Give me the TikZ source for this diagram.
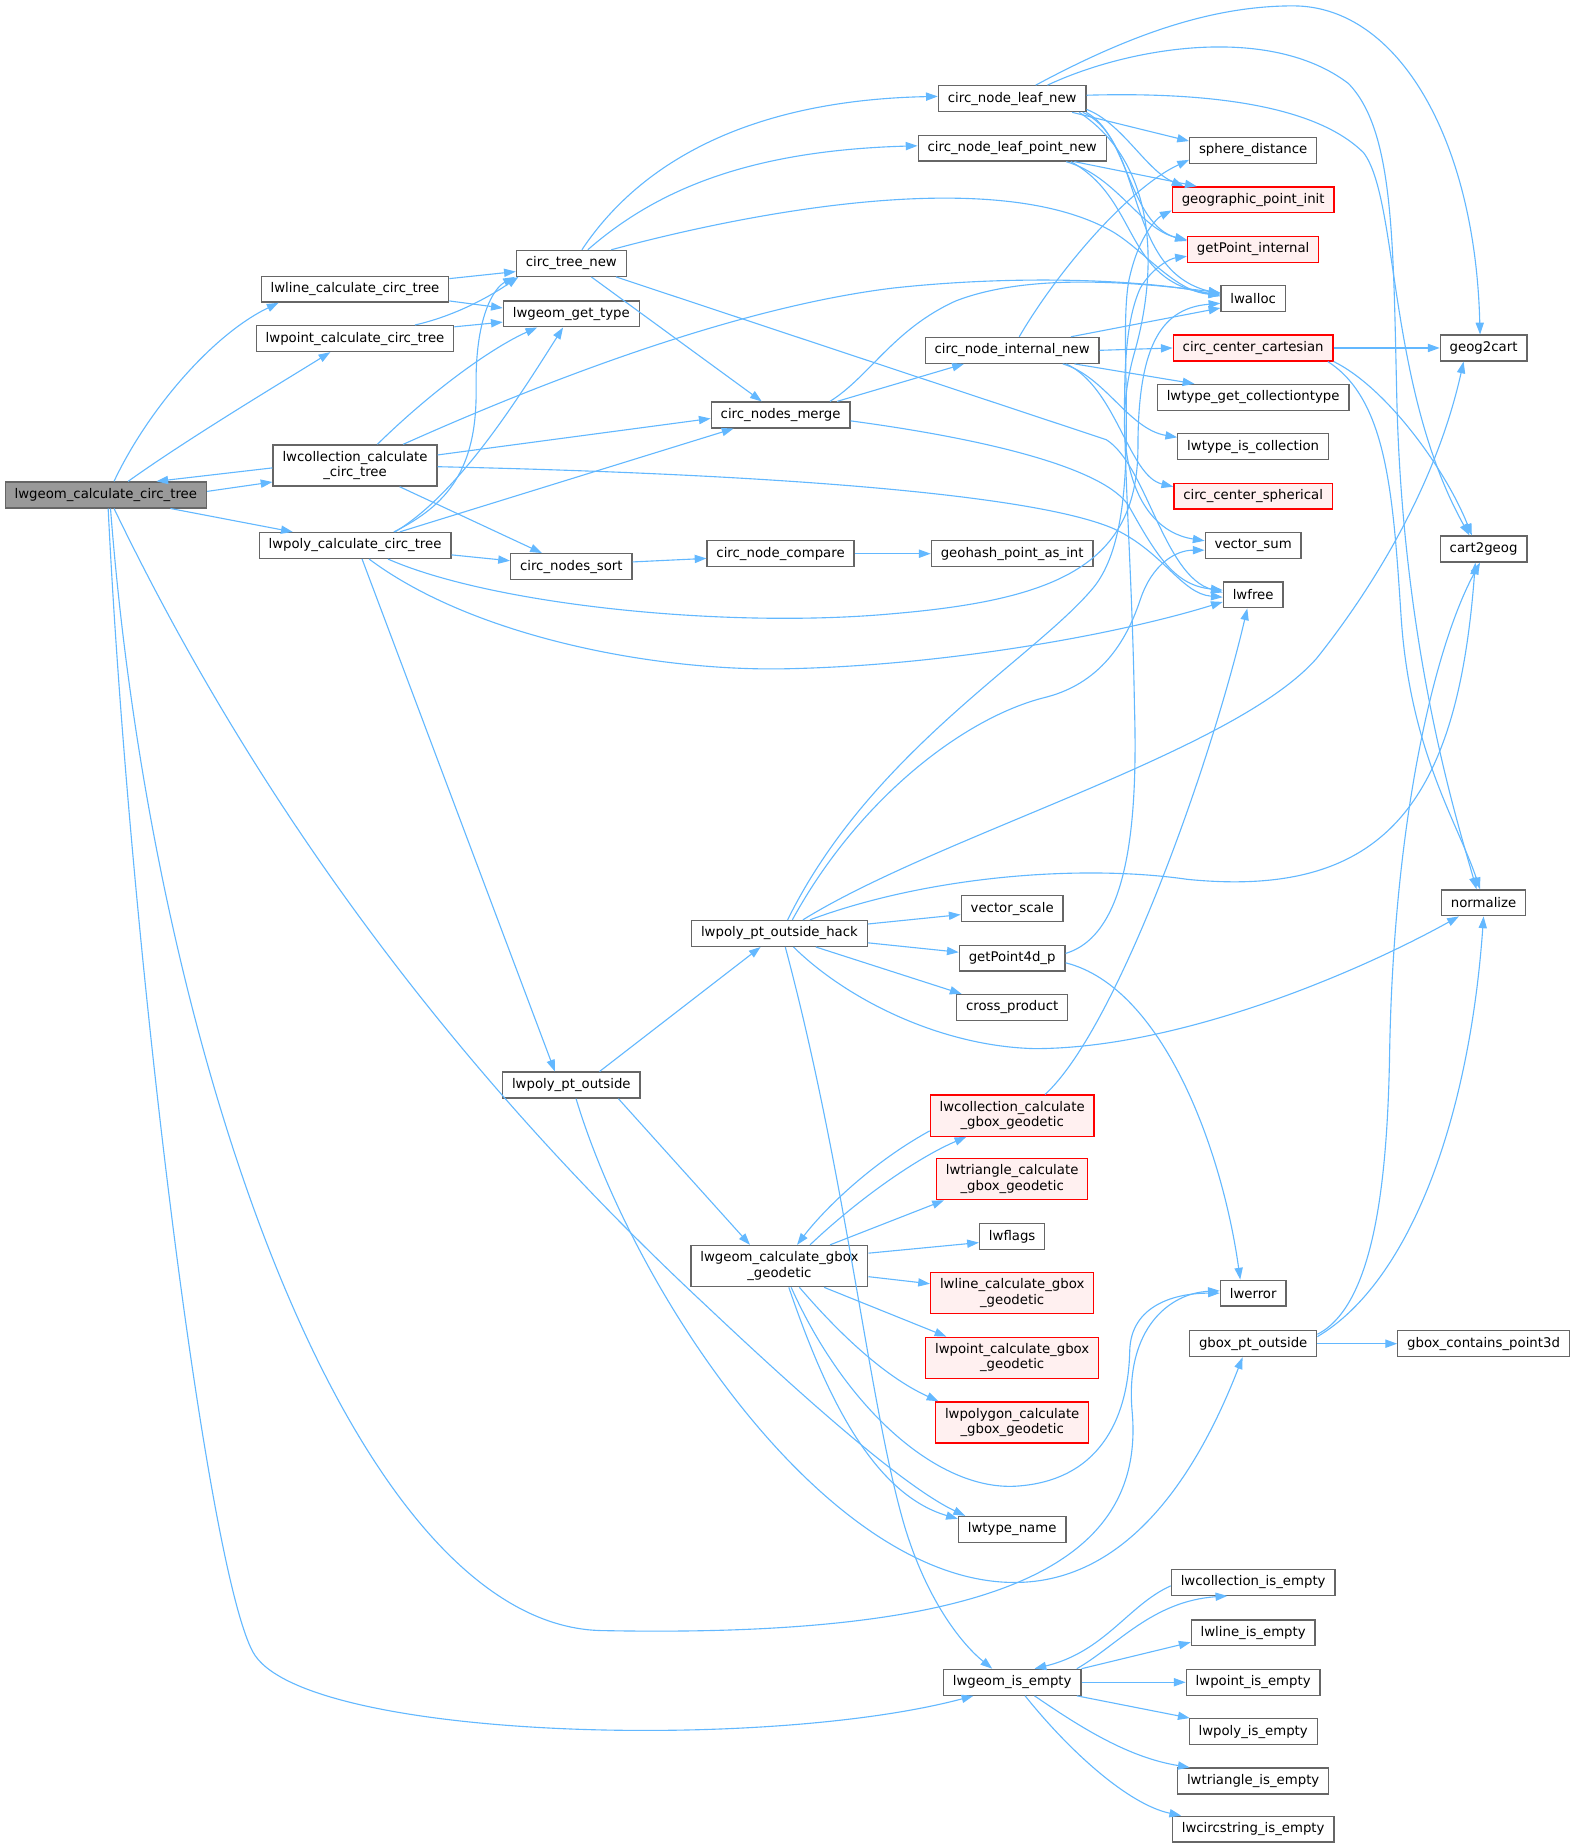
\documentclass[tikz,border=0pt]{standalone}
\usepackage{fontspec}
\setmainfont{DejaVu Sans}
\usepackage{tikz}
\usetikzlibrary{arrows.meta}
\definecolor{edgeblue}{HTML}{63B8FF}
\definecolor{boxgrey}{HTML}{666666}
\definecolor{rootgrey}{HTML}{999999}
\definecolor{redline}{HTML}{FF0000}
\definecolor{redfill}{HTML}{FFF0F0}

\begin{document}
\begin{tikzpicture}[x=1pt,y=-1pt,
    fnbox/.style={draw=boxgrey, fill=white, line width=1.1pt, inner xsep=8pt, inner ysep=3pt,
      minimum height=22pt, align=center, font=\fontsize{11.3}{13}\selectfont},
    redbox/.style={fnbox, draw=redline, fill=redfill},
    rootbox/.style={fnbox, fill=rootgrey},
    tallbox/.style={minimum height=35pt},
    call/.style={draw=edgeblue, line width=0.95pt, -{Triangle[length=10pt,width=7pt]}}]
    \useasboundingbox (0,0) rectangle (1340,1572);

    \node[rootbox] (root) at (90,421) {lwgeom\_calculate\_circ\_tree};
    \node[fnbox] (lwline) at (302,246) {lwline\_calculate\_circ\_tree};
    \node[fnbox] (lwpoint) at (302,288) {lwpoint\_calculate\_circ\_tree};
    \node[fnbox,tallbox] (lwcoll) at (302,396) {lwcollection\_calculate\\\_circ\_tree};
    \node[fnbox] (lwpoly) at (302,464) {lwpoly\_calculate\_circ\_tree};
    \node[fnbox] (treenew) at (486,224) {circ\_tree\_new};
    \node[fnbox] (gettype) at (486,267) {lwgeom\_get\_type};
    \node[fnbox] (sort) at (486,482) {circ\_nodes\_sort};
    \node[fnbox] (merge) at (664,353) {circ\_nodes\_merge};
    \node[fnbox] (compare) at (664,471) {circ\_node\_compare};
    \node[fnbox] (geohash) at (861,471) {geohash\_point\_as\_int};
    \node[fnbox] (leaf) at (861,84) {circ\_node\_leaf\_new};
    \node[fnbox] (leafpt) at (861,126) {circ\_node\_leaf\_point\_new};
    \node[fnbox] (internal) at (861,298) {circ\_node\_internal\_new};
    \node[fnbox] (spheredist) at (1066,128) {sphere\_distance};
    \node[redbox] (geoinit) at (1066,170) {geographic\_point\_init};
    \node[redbox] (getptint) at (1066,212) {getPoint\_internal};
    \node[fnbox] (lwalloc) at (1066,254) {lwalloc};
    \node[redbox] (cartesian) at (1066,296) {circ\_center\_cartesian};
    \node[fnbox] (colltype) at (1066,338) {lwtype\_get\_collectiontype};
    \node[fnbox] (iscoll) at (1066,380) {lwtype\_is\_collection};
    \node[redbox] (spherical) at (1066,422) {circ\_center\_spherical};
    \node[fnbox] (vsum) at (1066,464) {vector\_sum};
    \node[fnbox] (lwfree) at (1066,506) {lwfree};
    \node[fnbox] (geogcart) at (1262,296) {geog2cart};
    \node[fnbox] (cartgeog) at (1262,467) {cart2geog};
    \node[fnbox] (normalize) at (1262,768) {normalize};
    \node[fnbox] (hack) at (663,794) {lwpoly\_pt\_outside\_hack};
    \node[fnbox] (vscale) at (861,773) {vector\_scale};
    \node[fnbox] (getpt4d) at (861,815) {getPoint4d\_p};
    \node[fnbox] (cross) at (861,857) {cross\_product};
    \node[fnbox] (ptoutside) at (486,923) {lwpoly\_pt\_outside};
    \node[redbox,tallbox] (collgbox) at (861,949) {lwcollection\_calculate\\\_gbox\_geodetic};
    \node[redbox,tallbox] (trigbox) at (861,1003) {lwtriangle\_calculate\\\_gbox\_geodetic};
    \node[fnbox,tallbox] (gbox) at (663,1077) {lwgeom\_calculate\_gbox\\\_geodetic};
    \node[fnbox] (lwflags) at (861,1052) {lwflags};
    \node[redbox,tallbox] (linegbox) at (861,1100) {lwline\_calculate\_gbox\\\_geodetic};
    \node[redbox,tallbox] (pointgbox) at (861,1155) {lwpoint\_calculate\_gbox\\\_geodetic};
    \node[redbox,tallbox] (polygbox) at (861,1210) {lwpolygon\_calculate\\\_gbox\_geodetic};
    \node[fnbox] (typename) at (861,1301) {lwtype\_name};
    \node[fnbox] (lwerror) at (1066,1100) {lwerror};
    \node[fnbox] (gboxout) at (1066,1143) {gbox\_pt\_outside};
    \node[fnbox] (contains) at (1262,1143) {gbox\_contains\_point3d};
    \node[fnbox] (isempty) at (861,1431) {lwgeom\_is\_empty};
    \node[fnbox] (collempty) at (1066,1346) {lwcollection\_is\_empty};
    \node[fnbox] (lineempty) at (1066,1389) {lwline\_is\_empty};
    \node[fnbox] (pointempty) at (1066,1431) {lwpoint\_is\_empty};
    \node[fnbox] (polyempty) at (1066,1473) {lwpoly\_is\_empty};
    \node[fnbox] (triempty) at (1066,1515) {lwtriangle\_is\_empty};
    \node[fnbox] (circempty) at (1066,1556) {lwcircstring\_is\_empty};

    % root
    \draw[call] ([xshift=7pt]root.north) .. controls (125,350) and (180,285) .. ([xshift=-65pt]lwline.south);
    \draw[call] ([xshift=19pt]root.north) .. controls (160,373) and (240,325) .. ([xshift=-21pt]lwpoint.south);
    \draw[call] ([yshift=-2pt]lwcoll.west) -- ([xshift=43pt]root.north);
    \draw[call] ([yshift=3pt]root.east) -- ([yshift=-14pt]lwcoll.west);
    \draw[call] ([xshift=55pt]root.south) -- ([xshift=-53pt]lwpoly.north);
    \draw[call] ([xshift=2pt]root.south) .. controls (110,800) and (175,1330) .. (215,1405) .. controls (255,1480) and (650,1490) .. ([xshift=-33pt]isempty.south);
    \draw[call] ([xshift=4pt]root.south) .. controls (130,900) and (300,1380) .. (510,1387) .. controls (850,1394) and (975,1330) .. (963,1200) .. controls (957,1130) and (995,1100) .. ([yshift=2pt]lwerror.west);
    \draw[call] ([xshift=7pt]root.south) .. controls (250,750) and (450,970) .. (600,1110) .. controls (690,1195) and (770,1265) .. ([xshift=-40pt]typename.north);

    % second column
    \draw[call] ([yshift=9pt]lwline.east) -- ([yshift=-7pt]treenew.west);
    \draw[call] ([yshift=-10pt]lwline.east) -- ([yshift=5pt]gettype.west);
    \draw[call] ([xshift=51pt]lwpoint.north) .. controls (390,268) and (420,250) .. ([xshift=-45pt]treenew.south);
    \draw[call] ([yshift=10pt]lwpoint.east) -- ([yshift=-7pt]gettype.west);
    \draw[call] ([xshift=19pt]lwcoll.north) .. controls (370,330) and (420,295) .. ([xshift=-29pt]gettype.south);
    \draw[call] ([xshift=41pt]lwcoll.north) .. controls (450,330) and (620,262) .. (760,245) .. controls (880,232) and (990,240) .. ([yshift=2pt]lwalloc.west);
    \draw[call] ([yshift=9pt]lwcoll.east) -- ([yshift=-3pt]merge.west);
    \draw[call] ([yshift=-1pt]lwcoll.east) .. controls (650,403) and (880,420) .. (948,450) .. controls (990,470) and (1005,505) .. ([yshift=-2pt]lwfree.west);
    \draw[call] ([xshift=38pt]lwcoll.south) -- ([xshift=-25pt]sort.north);
    \draw[call] ([xshift=33pt]lwpoly.north) .. controls (380,430) and (406,400) .. (405,330) .. controls (404,270) and (420,245) .. ([xshift=-48pt]treenew.south);
    \draw[call] ([xshift=34pt]lwpoly.north) .. controls (390,420) and (440,340) .. ([xshift=-7pt]gettype.south);
    \draw[call] ([xshift=38pt]lwpoly.north) -- ([xshift=-40pt]merge.south);
    \draw[call] ([yshift=-8pt]lwpoly.east) -- ([yshift=5pt]sort.west);
    \draw[call] ([xshift=28pt]lwpoly.south) .. controls (420,515) and (620,535) .. (760,522) .. controls (900,510) and (968,480) .. (968,380) .. controls (968,290) and (990,262) .. ([yshift=-4pt]lwalloc.west);
    \draw[call] ([xshift=12pt]lwpoly.south) .. controls (400,540) and (550,570) .. (662,569) .. controls (800,567) and (950,540) .. ([yshift=-6pt]lwfree.west);
    \draw[call] ([xshift=6pt]lwpoly.south) -- ([xshift=-14pt]ptoutside.north);

    % tree building
    \draw[call] ([xshift=9pt]treenew.north) .. controls (550,130) and (650,85) .. ([yshift=2pt]leaf.west);
    \draw[call] ([xshift=14pt]treenew.north) .. controls (560,160) and (640,128) .. ([yshift=2pt]leafpt.west);
    \draw[call] ([xshift=34pt]treenew.north) .. controls (640,180) and (850,140) .. (948,198) .. controls (975,215) and (1000,248) .. ([yshift=3pt]lwalloc.west);
    \draw[call] ([xshift=17pt]treenew.south) -- ([xshift=-16pt]merge.north);
    \draw[call] ([xshift=38pt]treenew.south) -- (941,374) .. controls (975,395) and (990,490) .. ([yshift=2pt]lwfree.west);
    \draw[call] ([xshift=42pt]merge.north) .. controls (740,320) and (760,280) .. (813,256) .. controls (880,230) and (980,242) .. ([yshift=5pt]lwalloc.west);
    \draw[call] ([xshift=48pt]merge.north) -- ([xshift=-41pt]internal.south);
    \draw[call] ([yshift=-5pt]merge.east) .. controls (850,375) and (940,400) .. (960,430) .. controls (985,475) and (1000,498) .. ([yshift=4pt]lwfree.west);
    \draw[call] ([yshift=4pt]sort.east) -- ([yshift=-4pt]compare.west);
    \draw[call] (compare) -- (geohash);

    % leaves
    \draw[call] ([xshift=20pt]leaf.north) .. controls (960,30) and (1030,5) .. (1100,5) .. controls (1190,5) and (1255,120) .. ([xshift=-3pt]geogcart.north);
    \draw[call] ([xshift=30pt]leaf.north) .. controls (960,40) and (1080,20) .. (1147,71) .. controls (1185,110) and (1185,200) .. (1188,330) .. controls (1192,550) and (1240,700) .. ([xshift=-6pt]normalize.north);
    \draw[call] ([yshift=3pt]leaf.east) .. controls (1030,78) and (1120,90) .. (1160,130) .. controls (1190,170) and (1180,330) .. ([xshift=-12pt]cartgeog.north);
    \draw[call] ([xshift=51pt]leaf.south) -- ([yshift=8pt]spheredist.west);
    \draw[call] ([yshift=-9pt]leaf.east) .. controls (955,105) and (975,145) .. ([xshift=10pt]geoinit.north west);
    \draw[call] ([xshift=63pt]leaf.south) .. controls (960,115) and (960,190) .. ([yshift=7pt]getptint.west);
    \draw[call] ([xshift=60pt]leaf.south) .. controls (975,120) and (955,230) .. ([yshift=4pt]lwalloc.west);
    \draw[call] ([xshift=57pt]leaf.south) .. controls (985,140) and (985,230) .. (965,300) .. controls (945,370) and (960,450) .. ([yshift=4pt]vsum.west);
    \draw[call] ([xshift=53pt]leafpt.south) -- ([xshift=-48pt]geoinit.north);
    \draw[call] ([xshift=46pt]leafpt.south) .. controls (950,150) and (970,195) .. ([yshift=8pt]getptint.west);
    \draw[call] ([xshift=50pt]leafpt.south) .. controls (970,170) and (955,240) .. ([yshift=3pt]lwalloc.west);

    % internal node
    \draw[call] ([xshift=6pt]internal.north) .. controls (900,230) and (960,160) .. ([yshift=-8pt]spheredist.west);
    \draw[call] ([xshift=50pt]internal.north) -- ([yshift=-8pt]lwalloc.west);
    \draw[call] (internal.east) -- (cartesian.west);
    \draw[call] ([xshift=53pt]internal.south) -- ([xshift=-50pt]colltype.north);
    \draw[call] ([xshift=43pt]internal.south) .. controls (940,320) and (960,365) .. ([yshift=8pt]iscoll.west);
    \draw[call] ([xshift=46pt]internal.south) .. controls (950,330) and (960,405) .. ([yshift=8pt]spherical.west);
    \draw[call] (cartesian.east) -- (geogcart.west);
    \draw[call] (cartesian.south east) .. controls (1180,330) and (1230,400) .. ([xshift=-10pt]cartgeog.north);
    \draw[call] ([xshift=-5pt]cartesian.south east) .. controls (1180,340) and (1185,420) .. (1192,527) .. controls (1200,640) and (1240,700) .. ([xshift=-3pt]normalize.north);

    % outside point
    \draw[call] ([xshift=7pt]hack.north) .. controls (740,640) and (880,560) .. (930,500) .. controls (975,445) and (950,300) .. (960,240) .. controls (968,200) and (985,185) .. ([yshift=-9pt]geoinit.west);
    \draw[call] ([xshift=11pt]hack.north) .. controls (730,680) and (820,610) .. (890,593) .. controls (940,580) and (960,540) .. (970,510) .. controls (980,480) and (1000,468) .. ([yshift=-4pt]vsum.west);
    \draw[call] ([xshift=20pt]hack.north) .. controls (800,710) and (1050,640) .. (1120,560) .. controls (1160,510) and (1220,420) .. ([xshift=-17pt]geogcart.south);
    \draw[call] ([xshift=26pt]hack.north) .. controls (790,745) and (920,735) .. (1010,748) .. controls (1180,765) and (1240,680) .. ([xshift=-7pt]cartgeog.south);
    \draw[call] ([yshift=8pt]hack.east) -- ([yshift=-5pt]vscale.west);
    \draw[call] ([yshift=-8pt]hack.east) -- ([yshift=5pt]getpt4d.west);
    \draw[call] ([xshift=31pt]hack.south) -- ([xshift=-43pt]cross.north);
    \draw[call] ([xshift=12pt]hack.south) .. controls (720,850) and (800,890) .. (880,892) .. controls (1000,892) and (1150,830) .. ([xshift=-21pt]normalize.south);
    \draw[call] ([xshift=5pt]hack.south) .. controls (720,1000) and (740,1200) .. (770,1300) .. controls (790,1365) and (820,1400) .. ([xshift=-17pt]isempty.north);
    \draw[call] ([yshift=4pt]getpt4d.east) .. controls (960,795) and (968,700) .. (965,600) .. controls (962,420) and (945,300) .. (970,245) .. controls (980,228) and (995,220) .. ([yshift=-6pt]getptint.west);
    \draw[call] ([yshift=-4pt]getpt4d.east) .. controls (990,840) and (1040,980) .. ([xshift=-11pt]lwerror.north);
    \draw[call] ([xshift=24pt]ptoutside.north) -- ([xshift=-16pt]hack.south);
    \draw[call] ([xshift=40pt]ptoutside.south) -- ([xshift=-25pt]gbox.north);
    \draw[call] ([xshift=4pt]ptoutside.south) .. controls (540,1100) and (700,1340) .. (857,1346) .. controls (960,1350) and (1020,1250) .. ([xshift=-9pt]gboxout.south);

    % geodetic boxes
    \draw[call] ([yshift=-13pt]collgbox.west) .. controls (740,990) and (700,1030) .. ([xshift=15pt]gbox.north);
    \draw[call] ([xshift=26pt]gbox.north) .. controls (730,1020) and (780,985) .. ([xshift=-39pt]collgbox.south);
    \draw[call] ([xshift=28pt]collgbox.north) .. controls (950,875) and (1030,650) .. ([xshift=-5pt]lwfree.south);
    \draw[call] ([xshift=43pt]gbox.north) -- ([xshift=-58pt]trigbox.south);
    \draw[call] ([yshift=11pt]gbox.east) -- ([yshift=-5pt]lwflags.west);
    \draw[call] ([yshift=-9pt]gbox.east) -- ([yshift=8pt]linegbox.west);
    \draw[call] ([xshift=38pt]gbox.south) -- ([xshift=-56pt]pointgbox.north);
    \draw[call] ([xshift=17pt]gbox.south) .. controls (710,1130) and (750,1170) .. ([xshift=3pt]polygbox.north west);
    \draw[call] ([xshift=8pt]gbox.south) .. controls (700,1180) and (740,1270) .. ([yshift=9pt]typename.west);
    \draw[call] ([xshift=10pt]gbox.south) .. controls (720,1200) and (800,1270) .. (867,1264) .. controls (940,1258) and (960,1200) .. (961,1149) .. controls (962,1110) and (1000,1100) .. (lwerror.west);
    \draw[call] (gboxout.east) -- (contains.west);
    \draw[call] ([yshift=8pt]gboxout.east) .. controls (1170,1110) and (1180,1000) .. (1182,900) .. controls (1185,700) and (1220,550) .. ([xshift=-3pt]cartgeog.south);
    \draw[call] ([yshift=6pt]gboxout.east) .. controls (1200,1090) and (1250,950) .. (normalize.south);

    % emptiness
    \draw[call] ([xshift=55pt]isempty.north) .. controls (950,1400) and (980,1362) .. ([xshift=-22pt]collempty.south);
    \draw[call] ([yshift=-3pt]collempty.west) .. controls (960,1365) and (940,1405) .. ([xshift=19pt]isempty.north);
    \draw[call] (isempty.north east) -- ([yshift=-8pt]lineempty.west);
    \draw[call] (isempty.east) -- (pointempty.west);
    \draw[call] ([xshift=55pt]isempty.south) -- ([xshift=-54pt]polyempty.north);
    \draw[call] ([xshift=19pt]isempty.south) .. controls (920,1470) and (960,1495) .. ([xshift=-54pt]triempty.north);
    \draw[call] ([xshift=11pt]isempty.south) .. controls (910,1490) and (960,1535) .. ([xshift=8pt]circempty.north west);

    % \draw[help lines,step=100] (0,0) grid (1340,1572);
\end{tikzpicture}
\end{document}
